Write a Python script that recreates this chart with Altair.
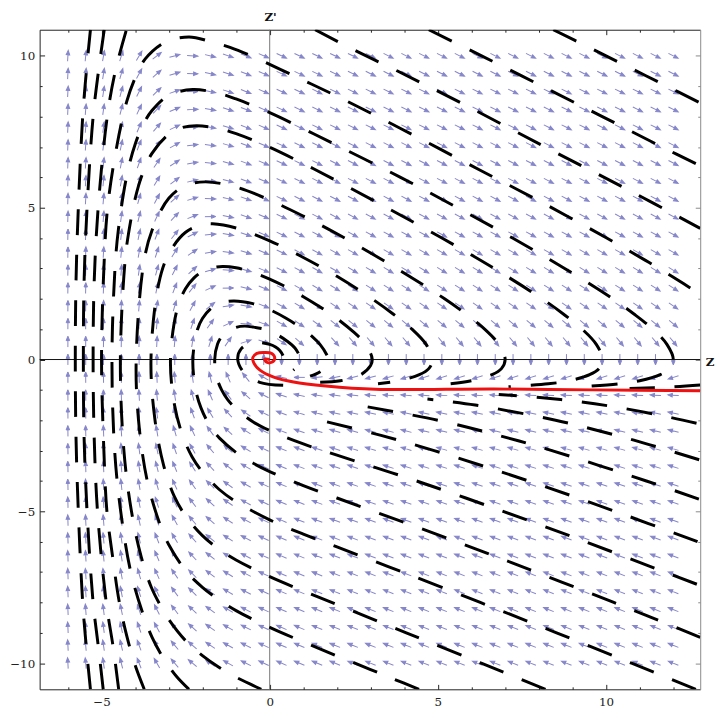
import numpy as np
import pandas as pd
import altair as alt

# ---------------- axes ----------------
X_DOMAIN = [-6.84, 12.80]
Y_DOMAIN = [-10.86, 10.86]
x_major = [-5, 0, 5, 10]
y_major = [-10, -5, 0, 5, 10]
x_minor = list(range(-6, 13))
y_minor = list(range(-10, 11))
zero_line = [0]

# ---------------- vector field grid (35 x 35 arrows) ----------------
grid_x = np.linspace(-6, 12, 35)
grid_y = np.linspace(-10, 10, 35)
# phase-plane field: horizontal part = Z', vertical part = k*(e^-Z - 1 - Z')
k_field = 0.5

# ---------------- streamlines ((Z, Z') pairs in drawing order) ----------------
left_1 = [(-5.33, -10.86), (-5.45, -9.5), (-5.56, -8), (-5.69, -5), (-5.76, -2.5), (-5.78, 0),
          (-5.76, 2.5), (-5.69, 5), (-5.56, 8), (-5.45, 9.5), (-5.33, 10.86)]
left_2 = [(-4.95, -10.86), (-5.09, -9.5), (-5.25, -8), (-5.43, -5), (-5.52, -2.5), (-5.54, 0),
          (-5.52, 2.5), (-5.43, 5), (-5.25, 8), (-5.09, 9.5), (-4.92, 10.86)]
left_3 = [(-4.49, -10.86), (-4.65, -9.5), (-4.86, -8), (-5.12, -5), (-5.22, -2.5), (-5.25, 0),
          (-5.22, 2.5), (-5.1, 5), (-4.83, 8), (-4.59, 9.5), (-4.26, 10.86)]
arc_1 = [(-3.73, -10.86), (-4.0, -10.07), (-4.25, -9.1), (-4.47, -8), (-4.67, -6.5), (-4.84, -5), (-4.93, -3),
         (-5.0, 0), (-4.93, 3), (-4.82, 5), (-4.55, 7), (-4.25, 8.5), (-3.99, 9.3), (-3.7, 9.9), (-3.11, 10.45),
         (-2.4, 10.62), (-1.76, 10.47), (-1.18, 10.28), (-0.47, 9.96), (0.8, 9.3), (2.0, 8.67), (3.82, 7.65),
         (6.23, 6.25), (8.08, 5.18), (10.02, 4.0), (11.27, 3.2), (12.3, 2.5), (12.8, 2.15)]
arc_2 = [(-2.4, -10.86), (-2.75, -10.46), (-3.0, -10.1), (-3.25, -9.67), (-3.5, -9.14), (-3.73, -8.5),
         (-4.13, -7), (-4.43, -5), (-4.61, -3), (-4.69, 0), (-4.6, 3.0), (-4.5, 4.27), (-4.25, 6.05),
         (-4.0, 7.09), (-3.75, 7.76), (-3.5, 8.2), (-3.0, 8.7), (-2.29, 8.89), (-1.5, 8.76), (-1.0, 8.58),
         (0, 8.13), (1, 7.6), (2, 7.05), (3.89, 6.0), (5.58, 5), (7.22, 4), (8.77, 3), (10.2, 2), (10.83, 1.5),
         (11.39, 1), (11.81, 0.5), (12.0, 0), (11.89, -0.3), (11.61, -0.5), (11.0, -0.7), (10.38, -0.8), (9.2, -0.9)]
arc_3 = [(-0.25, -10.86), (-0.5, -10.73), (-1.0, -10.46), (-1.5, -10.14), (-2.0, -9.75), (-2.5, -9.26),
         (-3.0, -8.56), (-3.25, -8.1), (-3.52, -7.5), (-3.82, -6.5), (-4.11, -5), (-4.335, -3), (-4.44, 0),
         (-4.3, 3.26), (-4.2, 4.13), (-4.0, 5.3), (-3.8, 6.06), (-3.5, 6.79), (-3.0, 7.42), (-2.6, 7.64),
         (-2.16, 7.7), (-1.5, 7.6), (-1.0, 7.44), (0, 6.99), (1, 6.45), (2, 5.88), (3.48, 5), (5.12, 4),
         (6.67, 3), (8.1, 2), (8.73, 1.5), (9.29, 1), (9.71, 0.5), (9.9, 0), (9.79, -0.3), (9.51, -0.5),
         (8.9, -0.7), (8.28, -0.8), (7.1, -0.9)]
arc_4 = [(4.44, -10.86), (3.64, -10.5), (2.98, -10.2), (2.0, -9.76), (1.0, -9.3), (0, -8.82), (-1.0, -8.27),
         (-1.5, -7.92), (-2.0, -7.5), (-2.5, -6.95), (-3.0, -6.1), (-3.24, -5.5), (-3.64, -4), (-3.9, -2),
         (-3.97, 0), (-3.75, 3.15), (-3.5, 4.25), (-3.0, 5.31), (-2.5, 5.73), (-1.92, 5.85), (-1.0, 5.68),
         (0, 5.25), (1, 4.72), (2, 4.14), (3.77, 3), (5.2, 2), (5.83, 1.5), (6.39, 1), (6.81, 0.5), (7.0, 0),
         (6.89, -0.3), (6.61, -0.5), (6.0, -0.7), (5.38, -0.8)]
arc_5 = [(8.2, -10.86), (6.29, -10), (4.06, -9), (2.0, -8.07), (1, -7.62), (0, -7.15), (-1, -6.6), (-1.5, -6.25),
         (-2, -5.8), (-2.5, -5.15), (-2.84, -4.5), (-3.15, -3.5), (-3.41, -2), (-3.53, 0), (-3.3, 2.5),
         (-3.0, 3.48), (-2.5, 4.19), (-2.0, 4.44), (-1.7, 4.47), (-1, 4.33), (0, 3.91), (1, 3.36), (2, 2.74),
         (3.04, 2), (3.67, 1.5), (4.23, 1), (4.65, 0.5), (4.84, 0), (4.73, -0.3), (4.45, -0.5), (3.84, -0.7),
         (3.22, -0.8)]
arc_6 = [(12.67, -10.86), (10.76, -10), (8.53, -9), (6.26, -8), (3.95, -7), (2, -6.17), (1, -5.75), (0, -5.28),
         (-1, -4.68), (-1.5, -4.28), (-2, -3.7), (-2.31, -3.2), (-2.59, -2.5), (-2.83, -1.5), (-2.95, 0),
         (-2.75, 1.67), (-2.5, 2.34), (-2.25, 2.69), (-2.0, 2.9), (-1.75, 3.01), (-1.4, 3.06), (-1, 3.02),
         (-0.5, 2.87), (0, 2.65), (0.5, 2.38), (1, 2.07), (1.5, 1.73), (2, 1.35), (2.5, 0.9), (2.75, 0.63),
         (3.0, 0.2), (3.05, 0), (3.0, -0.2), (2.71, -0.5), (2.1, -0.7), (1.5, -0.75)]
arc_7 = [(12.8, -9.15), (11.36, -8.5), (10.23, -8), (7.92, -7), (5.56, -6), (2, -4.56), (1, -4.15), (0, -3.69),
         (-0.5, -3.41), (-1, -3.06), (-1.5, -2.58), (-1.75, -2.24), (-2.04, -1.6), (-2.2, -1.0), (-2.285, 0),
         (-2.15, 0.98), (-2.0, 1.35), (-1.75, 1.68), (-1.5, 1.85), (-1.075, 1.93), (-0.5, 1.84), (0, 1.64),
         (0.5, 1.35), (1, 0.99), (1.25, 0.77), (1.5, 0.49), (1.7, 0.15), (1.75, 0), (1.7, -0.2), (1.5, -0.4),
         (1.2, -0.55)]
arc_8 = [(12.7, -7.4), (11.75, -7), (9.39, -6), (6.94, -5), (4.37, -4), (2, -3.15), (1, -2.78), (0, -2.34),
         (-0.5, -2.05), (-1, -1.62), (-1.25, -1.32), (-1.43, -1.0), (-1.57, -0.6), (-1.635, 0), (-1.55, 0.51),
         (-1.4, 0.8), (-1.25, 0.93), (-1.0, 1.06), (-0.742, 1.1), (-0.5, 1.07), (0, 0.95), (0.25, 0.8),
         (0.5, 0.62), (0.75, 0.38), (0.9, 0.1), (0.95, 0), (0.9, -0.15), (0.7, -0.35)]
arc_9 = [(0.4, -0.85), (-0.3, -0.75), (-0.75, -0.45), (-0.95, 0), (-0.85, 0.35), (-0.5, 0.55), (0, 0.5),
         (0.3, 0.3), (0.42, 0), (0.3, -0.2)]
top_a = [(8.43, 10.86), (9.49, 10.28), (10.58, 9.68), (11.7, 9.06), (12.8, 8.45)]
top_b = [(4.73, 10.86), (6.3, 10), (8.1, 9), (9.89, 8), (11.66, 7), (12.8, 6.38)]
top_d = [(1.35, 10.86), (2.5, 10.2), (3.8, 9.5), (5.6, 8.5), (8.1, 7.05), (10.5, 5.68), (12.8, 4.32)]
back_l = [(12.8, -0.84), (12.0, -0.9), (10.7, -0.95)]
low_1 = [(12.72, -6.0), (10.27, -5), (7.7, -4), (4.89, -3), (3.31, -2.5), (1.5, -2.0)]
low_2 = [(12.76, -4.6), (11.2, -4), (8.39, -3), (6.81, -2.5), (5.0, -2), (2.61, -1.5)]
low_3 = [(12.77, -3.3), (11.28, -2.8), (10.31, -2.5), (8.5, -2), (6.11, -1.5), (4.69, -1.3)]
low_4 = [(12.69, -2.1), (11.89, -1.9), (10.48, -1.6), (9.27, -1.4), (8.03, -1.25), (6.81, -1.15)]

red_path = [(12.80, -1.03), (9.6, -1.00), (6.67, -0.97), (3.14, -0.98), (1.67, -0.87), (0.71, -0.74),
            (0.12, -0.58), (-0.29, -0.35), (-0.47, -0.12), (-0.50, 0.07), (-0.38, 0.20), (-0.18, 0.23),
            (0.06, 0.20), (0.15, 0.04), (0.06, -0.09), (-0.09, -0.09), (-0.15, 0.01), (0.0, 0.0)]

streams = {"left_1": left_1, "left_2": left_2, "left_3": left_3, "arc_1": arc_1, "arc_2": arc_2,
           "arc_3": arc_3, "arc_4": arc_4, "arc_5": arc_5, "arc_6": arc_6, "arc_7": arc_7, "arc_8": arc_8,
           "arc_9": arc_9, "top_a": top_a, "top_b": top_b, "top_d": top_d, "back_l": back_l,
           "low_1": low_1, "low_2": low_2, "low_3": low_3, "low_4": low_4}

W, H = 668, 667
ARROW_COLOR = "#5858b8"
SERIF = "DejaVu Serif"
ARROW = "M-1,0L0.3,0M1,0L0.2,-0.32L0.2,0.32Z"

# arrow table
gx, gy = np.meshgrid(grid_x, grid_y)
u = gy
v = k_field * (np.exp(-gx) - 1 - gy)
px_per_x = W / (X_DOMAIN[1] - X_DOMAIN[0])
px_per_y = H / (Y_DOMAIN[1] - Y_DOMAIN[0])
ang = np.degrees(np.arctan2(-v * px_per_y, u * px_per_x)) % 360
arrows_df = pd.DataFrame({"x": gx.ravel(), "y": gy.ravel(), "ang": ang.ravel()})

rows = []
for name, pts in streams.items():
    for i, (x, y) in enumerate(pts):
        rows.append({"line": name, "i": i, "x": x, "y": y})
stream_df = pd.DataFrame(rows)
red_df = pd.DataFrame({"i": range(len(red_path)), "x": [p[0] for p in red_path], "y": [p[1] for p in red_path]})

xs = alt.Scale(domain=X_DOMAIN, nice=False, zero=False)
ys = alt.Scale(domain=Y_DOMAIN, nice=False, zero=False)

FRAME = "#222222"
MAJOR_MINOR = {"condition": {"test": "datum.value % 5 === 0", "value": 5}, "value": 2.5}

label_x_axis = alt.Axis(orient="bottom", values=x_major, ticks=False, tickSize=0, labelPadding=7,
                        labelFont=SERIF, labelFontSize=12, labelColor="#222", domain=True,
                        domainColor=FRAME, domainWidth=1, grid=False, format="d",
                        title="Z", titleX=673, titleY=-331, titleAlign="left", titleBaseline="middle",
                        titleFont=SERIF, titleFontSize=12, titleFontWeight="bold", titleColor="#111", titleAngle=0)
label_y_axis = alt.Axis(orient="left", values=y_major, ticks=False, tickSize=0, labelPadding=5,
                        labelFont=SERIF, labelFontSize=12, labelColor="#222", domain=True,
                        domainColor=FRAME, domainWidth=1, grid=False, format="d",
                        title="Z'", titleX=233, titleY=-9, titleAlign="center", titleBaseline="alphabetic",
                        titleFont=SERIF, titleFontSize=12, titleFontWeight="bold", titleColor="#111", titleAngle=0)

arrows = alt.Chart(arrows_df).mark_point(
    shape=ARROW, filled=True, size=121, fill=ARROW_COLOR, stroke=ARROW_COLOR, strokeWidth=1, opacity=0.72
).encode(
    x=alt.X("x:Q", scale=xs, axis=label_x_axis),
    y=alt.Y("y:Q", scale=ys, axis=label_y_axis),
    angle=alt.Angle("ang:Q", scale=None),
)

dummy = pd.DataFrame({"x": [0.0], "y": [0.0]})
ticks_bl = alt.Chart(dummy).mark_point(opacity=0).encode(
    x=alt.X("x:Q", scale=xs, axis=alt.Axis(orient="top", offset=-H, values=x_minor, labels=False, domain=False,
                                           grid=False, tickColor=FRAME, tickWidth=1, tickSize=MAJOR_MINOR, title=None)),
    y=alt.Y("y:Q", scale=ys, axis=alt.Axis(orient="right", offset=-W, values=y_minor, labels=False, domain=False,
                                           grid=False, tickColor=FRAME, tickWidth=1, tickSize=MAJOR_MINOR, title=None)),
)
ticks_tr = alt.Chart(dummy).mark_point(opacity=0).encode(
    x=alt.X("x:Q", scale=xs, axis=alt.Axis(orient="bottom", offset=-H, values=x_minor, labels=False, domain=True,
                                           domainColor=FRAME, grid=False, tickColor=FRAME, tickWidth=1,
                                           tickSize=MAJOR_MINOR, title=None)),
    y=alt.Y("y:Q", scale=ys, axis=alt.Axis(orient="left", offset=-W, values=y_minor, labels=False, domain=True,
                                           domainColor="#8a8a8a", grid=False, tickColor="#8a8a8a", tickWidth=1,
                                           tickSize=MAJOR_MINOR, title=None)),
)

zx = alt.Chart(pd.DataFrame({"v": zero_line})).mark_rule(color="#777777", strokeWidth=1).encode(
    x=alt.X("v:Q", scale=xs, axis=None))
zy = alt.Chart(pd.DataFrame({"v": zero_line})).mark_rule(color="#111111", strokeWidth=1).encode(
    y=alt.Y("v:Q", scale=ys, axis=None))

streamlines = alt.Chart(stream_df).mark_line(
    color="black", strokeWidth=3, strokeDash=[26, 20], strokeCap="butt", interpolate="catmull-rom", clip=True
).encode(
    x=alt.X("x:Q", scale=xs, axis=None),
    y=alt.Y("y:Q", scale=ys, axis=None),
    detail="line:N",
    order="i:Q",
)

red = alt.Chart(red_df).mark_line(color="#ee1111", strokeWidth=3, interpolate="catmull-rom", clip=True).encode(
    x=alt.X("x:Q", scale=xs, axis=None),
    y=alt.Y("y:Q", scale=ys, axis=None),
    order="i:Q",
)

chart = alt.layer(arrows, ticks_bl, ticks_tr, zx, zy, streamlines, red).resolve_axis(
    x="independent", y="independent"
).properties(
    width=W, height=H,
    padding={"left": 32, "top": 18, "right": 20, "bottom": 22},
    autosize=alt.AutoSizeParams(type="none"),
).configure_view(stroke=None)

chart.save("out.html", embed_options={"renderer": "svg", "actions": False})
